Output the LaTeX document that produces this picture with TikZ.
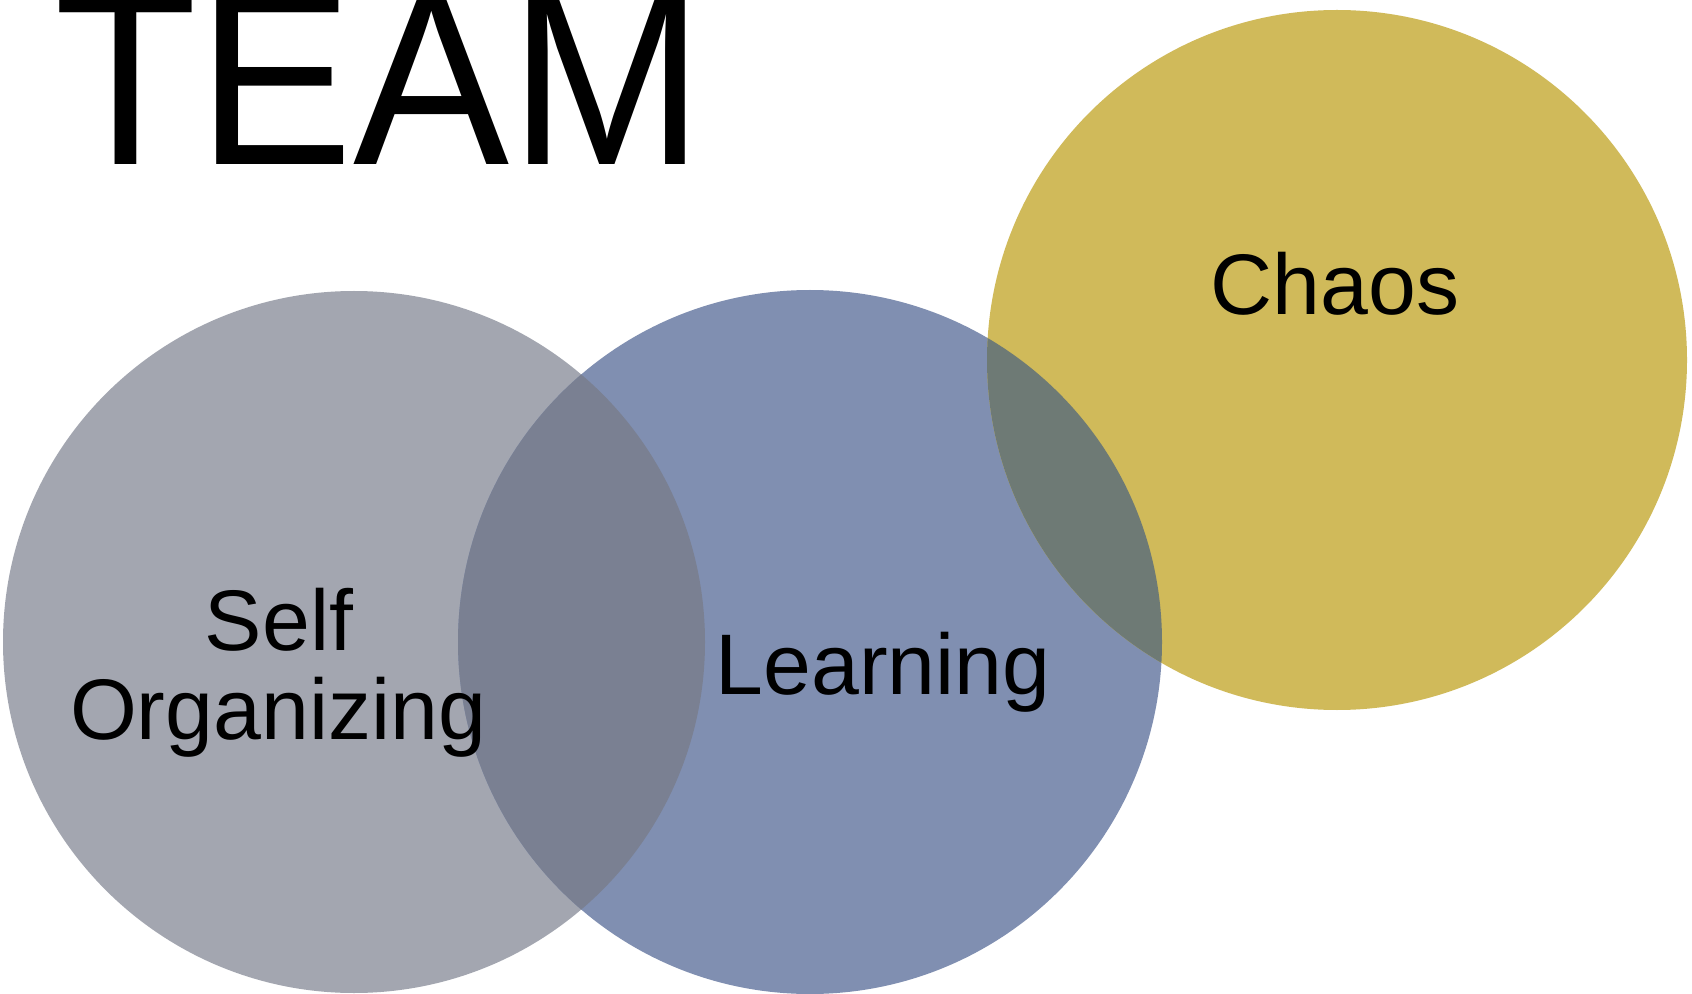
\documentclass[tikz,border=0pt]{standalone}
\usepackage{fontspec}
\setmainfont{Liberation Sans}
\begin{document}
\begin{tikzpicture}[x=0.5pt,y=-0.5pt,
  lbl/.style={inner sep=0pt,anchor=base,font=\fontsize{43}{50}\selectfont,text=black}]
\definecolor{cgray}{RGB}{163,166,176}
\definecolor{cblue}{RGB}{128,143,177}
\definecolor{cyel}{RGB}{208,186,90}
\definecolor{cgb}{RGB}{122,128,146}
\definecolor{cby}{RGB}{110,122,117}
\useasboundingbox (0,0) rectangle (1692,994);
\fill[white] (0,0) rectangle (1692,994);
% circles
\fill[cgray] (354,642) circle[radius=351];
\fill[cblue] (810,642) circle[radius=352];
\fill[cyel] (1337,360) circle[radius=350];
% overlaps
\begin{scope}
  \clip (354,642) circle[radius=351];
  \fill[cgb] (810,642) circle[radius=352];
\end{scope}
\begin{scope}
  \clip (1337,360) circle[radius=350];
  \fill[cby] (810,642) circle[radius=352];
\end{scope}
% title
\node[inner sep=0pt,anchor=base west,yscale=1.06,font=\fontsize{117}{130}\selectfont] (title) at (54,165) {TEAM};
% labels
\node[lbl] (chaos) at (1335,315) {Chaos};
\node[lbl] (learn) at (883,694) {Learning};
\node[lbl] (self) at (279,650) {Self};
\node[lbl] (org) at (278,739) {Organizing};
\end{tikzpicture}
\end{document}
